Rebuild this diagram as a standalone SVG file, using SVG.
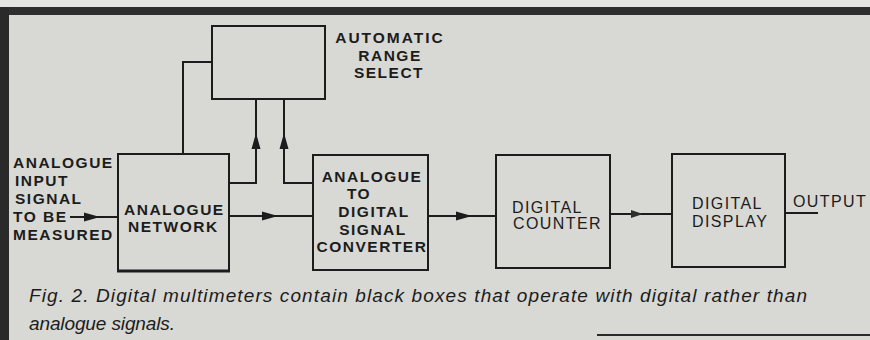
<svg xmlns="http://www.w3.org/2000/svg" width="870" height="340" viewBox="0 0 870 340">
<style>
.box{fill:none;stroke:#1c1c1c;stroke-width:2}
.wire{fill:none;stroke:#1c1c1c;stroke-width:2}
.lbl{font-family:"Liberation Sans",Arial,sans-serif;font-weight:bold;font-size:15.5px;letter-spacing:1.5px;fill:#1c1c1c}
.reg{font-weight:normal;font-size:16px;letter-spacing:1.4px}
.cap{font-family:"Liberation Sans",Arial,sans-serif;font-style:italic;font-size:19px;fill:#1c1c1c}
</style>
<defs>
<marker id="arr" markerUnits="userSpaceOnUse" markerWidth="16" markerHeight="10" viewBox="0 0 16 10" refX="16" refY="5" orient="auto">
<path d="M0,0.5 L16,5 L0,9.5 z" fill="#1c1c1c"/>
</marker>
<marker id="arrf" markerUnits="userSpaceOnUse" markerWidth="12" markerHeight="9" viewBox="0 0 12 9" refX="12" refY="4.5" orient="auto">
<path d="M0,0.5 L12,4.5 L0,8.5 z" fill="#2e2e2e"/>
</marker>
</defs>
<g id="frame">
<rect x="0" y="0" width="870" height="340" fill="#d8d8d4"/>
<rect x="0" y="0" width="870" height="7" fill="#e4e4e0"/>
<rect x="0" y="7" width="870" height="8" fill="#2e2e2e"/>
<rect x="0" y="7" width="9" height="333" fill="#2a2a2a"/>
<line x1="597" y1="335" x2="870" y2="335" stroke="#2a2a2a" stroke-width="2"/>
</g>
<g id="connectors">
<path class="wire" d="M70,217 L100,217" marker-end="url(#arr)"/>
<path class="wire" d="M98,217 L118,217"/>
<path class="wire" d="M229,216 L278,216" marker-end="url(#arr)"/>
<path class="wire" d="M276,216 L313,216"/>
<path class="wire" d="M183,154 L183,62 L212,62"/>
<path class="wire" d="M229,183 L256,183 L256,133" marker-end="url(#arr)"/>
<path class="wire" d="M256,135 L256,99"/>
<path class="wire" d="M313,183 L284,183 L284,133" marker-end="url(#arr)"/>
<path class="wire" d="M284,135 L284,99"/>
<path class="wire" d="M428,216 L472,216" marker-end="url(#arr)"/>
<path class="wire" d="M470,216 L496,216"/>
<path class="wire" d="M610,214 L643,214" marker-end="url(#arrf)"/>
<path class="wire" d="M641,214 L672,214" stroke="#555"/>
<path class="wire" d="M785,213 L818,213"/>
</g>
<g id="ars">
<rect class="box" x="212" y="26" width="113" height="73"/>
<text class="lbl" x="390" y="43" text-anchor="middle" style="letter-spacing:2px">AUTOMATIC</text>
<text class="lbl" x="390" y="61" text-anchor="middle">RANGE</text>
<text class="lbl" x="389" y="78" text-anchor="middle">SELECT</text>
</g>
<g id="input">
<text class="lbl" x="13" y="168">ANALOGUE</text>
<text class="lbl" x="15" y="186">INPUT</text>
<text class="lbl" x="15" y="204">SIGNAL</text>
<text class="lbl" x="13" y="222">TO BE</text>
<text class="lbl" x="13" y="240">MEASURED</text>
</g>
<g id="network">
<rect class="box" x="118" y="154" width="111" height="117"/>
<line x1="117" y1="271" x2="230" y2="271" stroke="#1c1c1c" stroke-width="3"/>
<text class="lbl" x="124" y="215">ANALOGUE</text>
<text class="lbl" x="128" y="232">NETWORK</text>
</g>
<g id="adc">
<rect class="box" x="313" y="155" width="115" height="115"/>
<text class="lbl" x="372" y="182" text-anchor="middle">ANALOGUE</text>
<text class="lbl" x="359" y="199" text-anchor="middle">TO</text>
<text class="lbl" x="374" y="217" text-anchor="middle">DIGITAL</text>
<text class="lbl" x="373" y="235" text-anchor="middle">SIGNAL</text>
<text class="lbl" x="372" y="252" text-anchor="middle">CONVERTER</text>
</g>
<g id="counter">
<rect class="box" x="496" y="155" width="114" height="113"/>
<text class="lbl reg" x="512" y="213">DIGITAL</text>
<text class="lbl reg" x="513" y="229">COUNTER</text>
</g>
<g id="display">
<rect class="box" x="672" y="154" width="113" height="113"/>
<text class="lbl reg" x="692" y="209">DIGITAL</text>
<text class="lbl reg" x="692" y="227">DISPLAY</text>
</g>
<g id="output">
<text class="lbl reg" x="793" y="207">OUTPUT</text>
</g>
<g id="caption">
<text class="cap" x="29" y="302" textLength="778" lengthAdjust="spacing">Fig. 2. Digital multimeters contain black boxes that operate with digital rather than</text>
<text class="cap" x="29" y="330" textLength="146" lengthAdjust="spacing">analogue signals.</text>
</g>
</svg>
